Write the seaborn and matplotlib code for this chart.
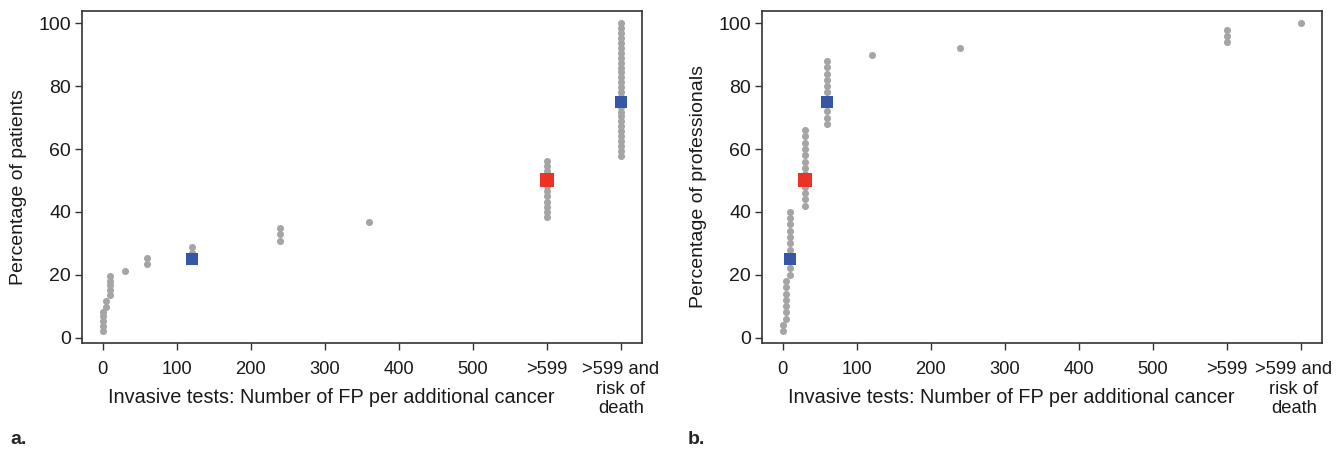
"""
plot.py - Falsos positivos aceptados por pacientes y profesionales.
"""
import numpy as np
import pandas as pd
import matplotlib
matplotlib.use("Agg")
import matplotlib.pyplot as plt
import matplotlib.transforms as mtransforms
import seaborn as sns

# ---- datos ----
tick_pos = [0, 100, 200, 300, 400, 500, 600, 700]
tick_labels = ["0", "100", "200", "300", "400", "500", ">599", ">599 and\nrisk of\ndeath"]

pat_fp = [0, 0, 0, 0, 0, 5, 5, 10, 10, 10, 10, 10, 30, 60, 60, 120, 120,
          240, 240, 240, 360] + [600] * 12 + [700] * 28
pat_pct = [2.1, 3.8, 5.4, 6.9, 8.3, 9.7, 11.6, 13.7, 15.2, 16.7, 18.1, 19.6,
           21.3, 23.3, 25.2, 26.9, 28.9, 30.9, 32.9, 34.8, 36.7,
           38.5, 40.1, 41.7, 43.3, 44.9, 46.5, 48.1, 49.7, 51.3, 52.9, 54.5, 56.1,
           57.9, 59.5, 61.0, 62.6, 64.1, 65.7, 67.2, 68.8, 70.4, 71.9, 73.5, 75.0,
           76.6, 78.1, 79.7, 81.3, 82.8, 84.4, 85.9, 87.5, 89.1, 90.6, 92.2, 93.8,
           95.3, 96.9, 98.4, 100.0]
pat_quart_fp = [120, 700]
pat_quart_pct = [25, 75]
pat_med_fp = [600]
pat_med_pct = [50]

pro_fp = [0, 0] + [5] * 7 + [10] * 11 + [30] * 13 + [60] * 11 + [120, 240, 600, 600, 600, 700]
pro_pct = [2, 4,
           6, 8, 10, 12, 14, 16, 18,
           20, 22, 24, 26, 28, 30, 32, 34, 36, 38, 40,
           42, 44, 46, 48, 50, 52, 54, 56, 58, 60, 62, 64, 66,
           68, 70, 72, 74, 76, 78, 80, 82, 84, 86, 88,
           90, 92, 94, 96, 98, 100]
pro_quart_fp = [10, 60]
pro_quart_pct = [25, 75]
pro_med_fp = [30]
pro_med_pct = [50]

GRIS = "#a5a5a5"
AZUL = "#3657a8"
ROJO = "#ec3125"
NEGRO = "#333333"

sns.set_style("ticks")
plt.rcParams["font.family"] = ["Liberation Sans", "DejaVu Sans"]
plt.rcParams["font.size"] = 14


def panel(ax, fp, pct, q_fp, q_pct, m_fp, m_pct, ylabel):
    df = pd.DataFrame({"fp": fp, "pct": pct})
    sns.scatterplot(data=df, x="fp", y="pct", color=GRIS, s=26, linewidth=0, ax=ax, zorder=3)
    dq = pd.DataFrame({"fp": q_fp, "pct": q_pct})
    sns.scatterplot(data=dq, x="fp", y="pct", color=AZUL, marker="s", s=80, linewidth=0, ax=ax, zorder=4)
    dm = pd.DataFrame({"fp": m_fp, "pct": m_pct})
    sns.scatterplot(data=dm, x="fp", y="pct", color=ROJO, marker="s", s=115, linewidth=0, ax=ax, zorder=4)

    ax.set_xlim(-28, 728.5)
    ax.set_ylim(-1.8, 104)
    ax.set_xticks(tick_pos)
    ax.set_xticklabels(tick_labels, fontsize=13.2, va="top", linespacing=1.17)
    ax.set_yticks([0, 20, 40, 60, 80, 100])
    ax.tick_params(axis="both", direction="out", length=5, width=1, color=NEGRO, labelsize=14,
                   labelcolor="#1a1a1a")
    ax.tick_params(axis="x", pad=8, labelsize=13.2)
    ax.tick_params(axis="y", pad=3)
    for s in ax.spines.values():
        s.set_visible(True)
        s.set_linewidth(1.2)
        s.set_color(NEGRO)

    ax.set_xlabel("Invasive tests: Number of FP per additional cancer", fontsize=14.3, color="#1a1a1a")
    ax.xaxis.label.set_va("center")
    ax.xaxis.set_label_coords(0.445, -0.162)
    ax.set_ylabel(ylabel, fontsize=14, color="#1a1a1a")
    ax.yaxis.label.set_va("center")
    ax.yaxis.set_label_coords(-0.113, 0.47)


fig = plt.figure(figsize=(13.37, 4.53), dpi=100)
ax1 = fig.add_axes([82 / 1337, 1 - 343.3 / 453, 560 / 1337, 332.6 / 453])
ax2 = fig.add_axes([762 / 1337, 1 - 343.3 / 453, 560 / 1337, 332.6 / 453])

panel(ax1, pat_fp, pat_pct, pat_quart_fp, pat_quart_pct, pat_med_fp, pat_med_pct,
      "Percentage of patients")
panel(ax2, pro_fp, pro_pct, pro_quart_fp, pro_quart_pct, pro_med_fp, pro_med_pct,
      "Percentage of professionals")

# la ultima etiqueta del panel b queda pegada al borde: correrla un poco a la izquierda
ultima = ax2.get_xticklabels()[-1]
ultima.set_transform(ultima.get_transform() +
                     mtransforms.ScaledTranslation(-5 / 72, 0, fig.dpi_scale_trans))

fig.text(10 / 1337, 1 - 440 / 453, "a.", fontsize=14, fontweight="bold", va="center")
fig.text(688 / 1337, 1 - 440 / 453, "b.", fontsize=14, fontweight="bold", va="center")

fig.savefig("out.png", dpi=100)
